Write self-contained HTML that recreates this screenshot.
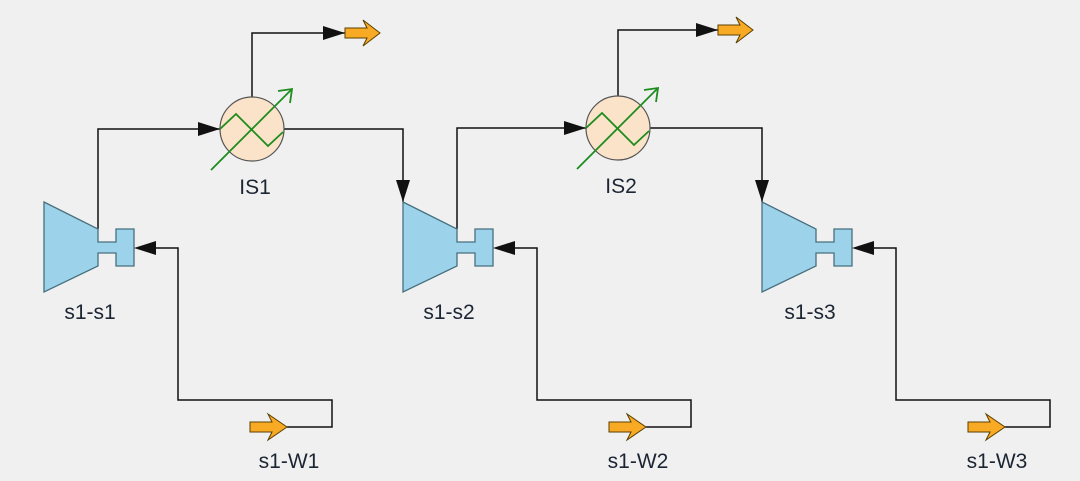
<!DOCTYPE html>
<html><head><meta charset="utf-8"><style>
html,body{margin:0;padding:0;background:#f0f0f0}
svg{display:block}
text{font-family:"Liberation Sans",sans-serif;font-size:21px;fill:#1c2633}
</style></head><body>
<svg width="1080" height="481" viewBox="0 0 1080 481" xmlns="http://www.w3.org/2000/svg">
<defs>
<g id="comp">
  <path d="M44,202 L98,229 L98,242 L116,242 L116,229 L134,229 L134,266 L116,266 L116,253 L98,253 L98,266 L44,292 Z" fill="#9dd3ea" stroke="#47707f" stroke-width="1.3"/>
  <path d="M150,248 L178,248 L178,400 L332,400 L332,427 L287,427" fill="none" stroke="#111" stroke-width="1.5"/>
  <path d="M134,248 L156,241 L156,255 Z" fill="#111"/>
  <path d="M250,422 L272,422 L268,414 L287,427 L268,440 L272,432 L250,432 Z" fill="#f9aa25" stroke="#5a4000" stroke-width="1"/>
</g>
<g id="hx">
  <circle cx="0" cy="0" r="32" fill="#fbe3c9" stroke="#555" stroke-width="1.2"/>
  <polyline points="-32,0 -16,-15 16,17 31,3" fill="none" stroke="#1e8c1e" stroke-width="1.8"/>
  <line x1="-41" y1="41" x2="39" y2="-39" stroke="#1e8c1e" stroke-width="1.8"/>
  <polyline points="26,-38 40,-40 38,-26 Z" fill="none" stroke="#1e8c1e" stroke-width="1.8"/>
</g>
<g id="out">
  <path d="M0,-5 L22,-5 L18,-13 L35,0 L18,13 L22,5 L0,5 Z" fill="#f9aa25" stroke="#5a4000" stroke-width="1"/>
</g>
</defs>

<g fill="none" stroke="#111" stroke-width="1.5">
  <path d="M98,229 L98,129 L220,129"/>
  <path d="M252,97 L252,33 L345,33"/>
  <path d="M284,129 L403,129 L403,202"/>
  <path d="M457,229 L457,128 L586,128"/>
  <path d="M618,96 L618,30 L718,30"/>
  <path d="M650,128 L762,128 L762,202"/>
</g>
<g fill="#111">
  <path d="M220,129 L198,122 L198,136 Z"/>
  <path d="M345,33 L323,26 L323,40 Z"/>
  <path d="M403,202 L396,180 L410,180 Z"/>
  <path d="M586,128 L564,121 L564,135 Z"/>
  <path d="M718,30 L696,23 L696,37 Z"/>
  <path d="M762,202 L755,180 L769,180 Z"/>
</g>

<use href="#comp"/>
<use href="#comp" transform="translate(359,0)"/>
<use href="#comp" transform="translate(718,0)"/>
<use href="#hx" transform="translate(252,129)"/>
<use href="#hx" transform="translate(618,128)"/>
<use href="#out" transform="translate(345,33)"/>
<use href="#out" transform="translate(718,30)"/>

<text x="90" y="319" text-anchor="middle">s1-s1</text>
<text x="449" y="319" text-anchor="middle">s1-s2</text>
<text x="810" y="319" text-anchor="middle">s1-s3</text>
<text x="255" y="194" text-anchor="middle">IS1</text>
<text x="621" y="193" text-anchor="middle">IS2</text>
<text x="289" y="468" text-anchor="middle">s1-W1</text>
<text x="638" y="468" text-anchor="middle">s1-W2</text>
<text x="997" y="468" text-anchor="middle">s1-W3</text>
</svg>
</body></html>
